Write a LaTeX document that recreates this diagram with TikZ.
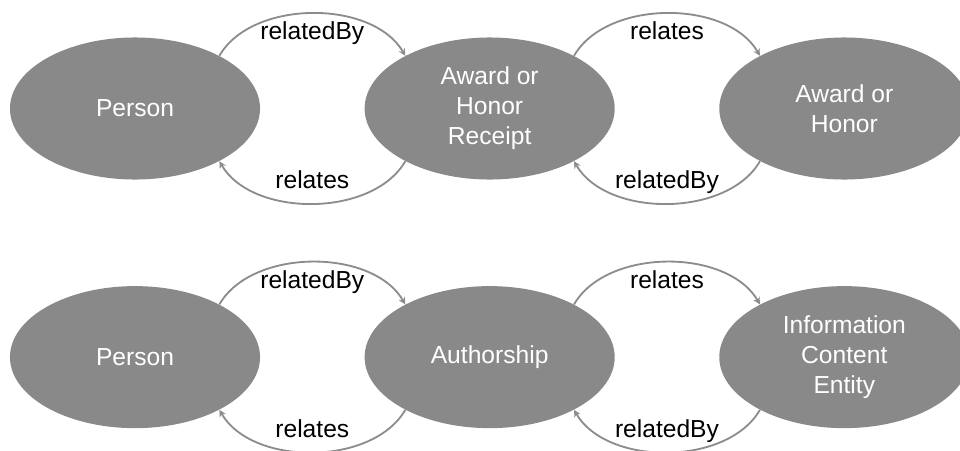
\documentclass[tikz,border=0pt]{standalone}
\usepackage{fontspec}
\setmainfont{Liberation Sans}
\usetikzlibrary{arrows.meta,positioning,shapes.geometric}
\definecolor{ovalgray}{RGB}{137,137,137}
\definecolor{linkgray}{RGB}{140,140,140}

\begin{document}
\begin{tikzpicture}[x=0.025cm, y=0.025cm, node distance=2.6cm,
  every node/.style={align=center, font=\fontsize{17.5}{21.3}\selectfont},
  entity/.style={ellipse, fill=ovalgray, text=white, minimum width=6.25cm, minimum height=3.55cm, inner sep=0pt},
  link/.style={draw=linkgray, line width=1.3pt, -{Stealth[length=5pt,width=5pt]}, looseness=0.9},
  rel/.style={midway, anchor=base, text=black}]
\useasboundingbox (0,0) rectangle (960,450);
% top row
\node[entity] (person1) at (135,341.5) {Person};
\node[entity, right=of person1] (receipt) {Award or\\Honor\\Receipt};
\node[entity, right=of receipt] (award) {Award or\\Honor};
% bottom row
\node[entity, below=2.65cm of person1] (person2) {Person};
\node[entity, right=of person2] (authorship) {Authorship};
\node[entity, right=of authorship] (ice) {Information\\Content\\Entity};
% links, top row
\draw[link] (person1.32) to[out=60,in=120] node[rel, yshift=-18.8pt] {relatedBy} (receipt.148);
\draw[link] (receipt.212) to[out=240,in=300] node[rel, yshift=10.6pt] {relates} (person1.328);
\draw[link] (receipt.32) to[out=60,in=120] node[rel, yshift=-18.8pt] {relates} (award.148);
\draw[link] (award.212) to[out=240,in=300] node[rel, yshift=10.6pt] {relatedBy} (receipt.328);
% links, bottom row
\draw[link] (person2.32) to[out=60,in=120] node[rel, yshift=-18.8pt] {relatedBy} (authorship.148);
\draw[link] (authorship.212) to[out=240,in=300] node[rel, yshift=10.6pt] {relates} (person2.328);
\draw[link] (authorship.32) to[out=60,in=120] node[rel, yshift=-18.8pt] {relates} (ice.148);
\draw[link] (ice.212) to[out=240,in=300] node[rel, yshift=10.6pt] {relatedBy} (authorship.328);
\end{tikzpicture}
\end{document}
